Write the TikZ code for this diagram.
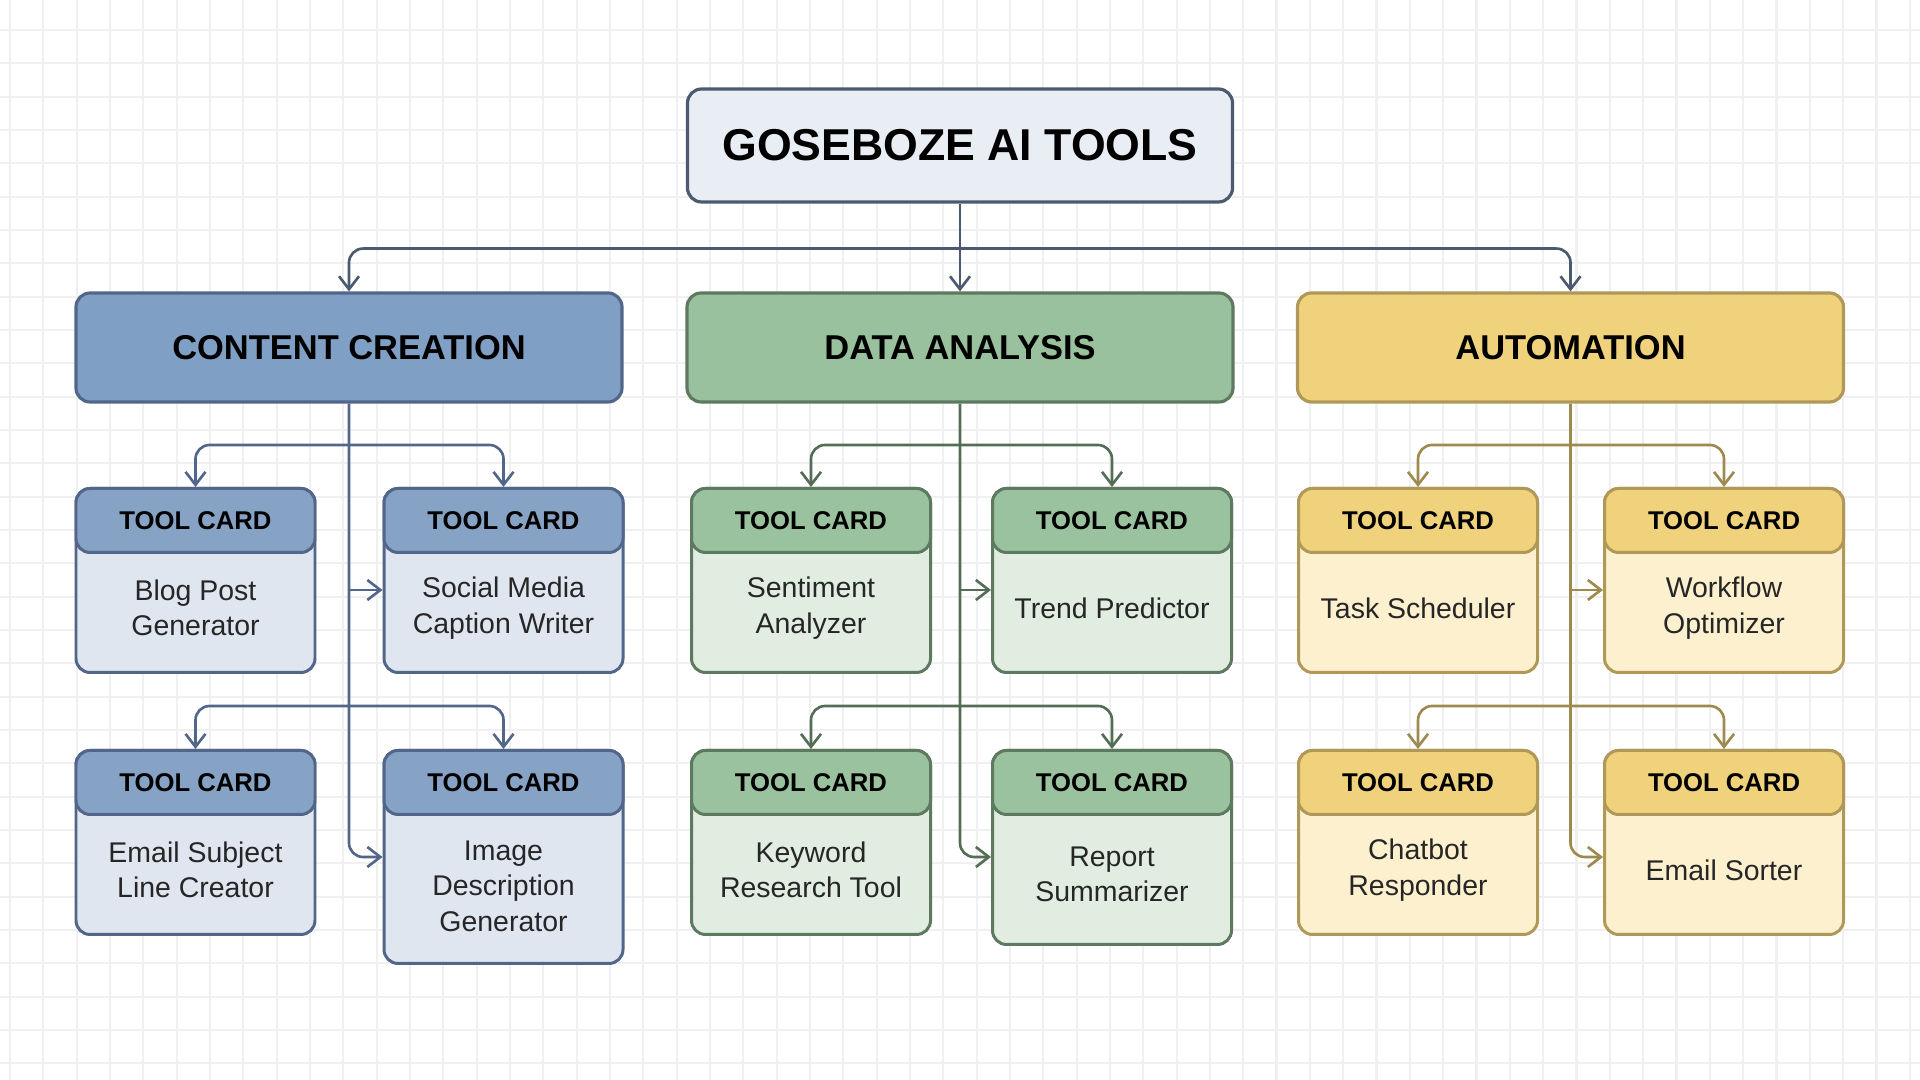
\documentclass[tikz,border=0pt]{standalone}
\usepackage{fontspec}
\setmainfont{Liberation Sans}
\usetikzlibrary{arrows.meta,calc,positioning}
\definecolor{topFill}{HTML}{E9EDF4}
\definecolor{topLine}{HTML}{4B5A70}
\definecolor{ccCat}{HTML}{809FC4}
\definecolor{ccHead}{HTML}{86A2C4}
\definecolor{ccBody}{HTML}{DFE6F0}
\definecolor{ccLine}{HTML}{52668A}
\definecolor{daCat}{HTML}{99C19D}
\definecolor{daHead}{HTML}{9BC29E}
\definecolor{daBody}{HTML}{E1EDE0}
\definecolor{daLine}{HTML}{5D7A60}
\definecolor{auCat}{HTML}{F0D27C}
\definecolor{auHead}{HTML}{F0D27C}
\definecolor{auBody}{HTML}{FCF0CE}
\definecolor{auLine}{HTML}{B09858}
\colorlet{gridLine}{black!6}
\tikzset{
  topbox/.style={
    rectangle, rounded corners=4pt, draw=topLine, fill=topFill, line width=0.9pt,
    minimum width=5.45cm, minimum height=1.13cm,
    font=\bfseries\fontsize{12.7}{15}\selectfont
  },
  catbox/.style={
    rectangle, rounded corners=4pt, line width=0.9pt,
    minimum width=5.46cm, minimum height=1.09cm,
    font=\bfseries\fontsize{9.8}{12}\selectfont
  },
  cardbox/.style={
    rectangle, rounded corners=4pt, line width=0.85pt, anchor=north,
    minimum width=2.39cm, minimum height=1.84cm
  },
  cardhead/.style={
    rectangle, rounded corners=4pt, line width=0.85pt, anchor=north,
    minimum width=2.39cm, minimum height=0.64cm,
    font=\bfseries\fontsize{7.3}{9}\selectfont
  },
  cardtext/.style={align=center, font=\fontsize{8.1}{10.1}\selectfont, text=black!85},
  linkarrow/.style={-{Straight Barb[length=1.3mm,width=2mm]}, line width=0.75pt, rounded corners=4pt},
  toparrow/.style={linkarrow, draw=topLine},
  ccarrow/.style={linkarrow, draw=ccLine},
  daarrow/.style={linkarrow, draw=daLine!90!black},
  auarrow/.style={linkarrow, draw=auLine!90!black}
}

\begin{document}
\begin{tikzpicture}[x=1cm,y=1cm]
  \useasboundingbox (0,0) rectangle (19.2,10.8);
  \fill[white] (0,0) rectangle (19.2,10.8);
  \begin{scope}
    \clip (0,0) rectangle (19.2,10.8);
    \draw[gridLine, line width=0.6pt, step=0.3333cm, xshift=1mm, yshift=1.667mm]
      (-0.5,-0.5) grid (19.5,11);
  \end{scope}

  % main title and the three groups
  \node[topbox] (title) at (9.60,9.345) {GOSEBOZE AI TOOLS};
  \node[catbox, fill=ccCat, draw=ccLine] (content) at (3.49,7.325) {CONTENT CREATION};
  \node[catbox, fill=daCat, draw=daLine] (data) at (9.60,7.325) {DATA ANALYSIS};
  \node[catbox, fill=auCat, draw=auLine] (auto) at (15.705,7.325) {AUTOMATION};

  % content creation cards
  \node[cardbox, fill=ccBody, draw=ccLine] (cc1) at (1.955,5.93) {};
  \node[cardhead, fill=ccHead, draw=ccLine] (cc1h) at (cc1.north) {TOOL CARD};
  \node[cardtext] (cc1t) at ($(cc1h.south)!0.45!(cc1.south)$) {Blog Post\\Generator};
  \node[cardbox, fill=ccBody, draw=ccLine] (cc2) at (5.035,5.93) {};
  \node[cardhead, fill=ccHead, draw=ccLine] (cc2h) at (cc2.north) {TOOL CARD};
  \node[cardtext] (cc2t) at ($(cc2h.south)!0.45!(cc2.south)$) {Social Media\\Caption Writer};
  \node[cardbox, fill=ccBody, draw=ccLine] (cc3) at (1.955,3.31) {};
  \node[cardhead, fill=ccHead, draw=ccLine] (cc3h) at (cc3.north) {TOOL CARD};
  \node[cardtext] (cc3t) at ($(cc3h.south)!0.45!(cc3.south)$) {Email Subject\\Line Creator};
  \node[cardbox, fill=ccBody, draw=ccLine, minimum height=2.13cm] (cc4) at (5.035,3.31) {};
  \node[cardhead, fill=ccHead, draw=ccLine] (cc4h) at (cc4.north) {TOOL CARD};
  \node[cardtext] (cc4t) at ($(cc4h.south)!0.47!(cc4.south)$) {Image\\Description\\Generator};

  % data analysis cards
  \node[cardbox, fill=daBody, draw=daLine] (da1) at (8.11,5.93) {};
  \node[cardhead, fill=daHead, draw=daLine] (da1h) at (da1.north) {TOOL CARD};
  \node[cardtext] (da1t) at ($(da1h.south)!0.45!(da1.south)$) {Sentiment\\Analyzer};
  \node[cardbox, fill=daBody, draw=daLine] (da2) at (11.12,5.93) {};
  \node[cardhead, fill=daHead, draw=daLine] (da2h) at (da2.north) {TOOL CARD};
  \node[cardtext] (da2t) at ($(da2h.south)!0.45!(da2.south)$) {Trend Predictor};
  \node[cardbox, fill=daBody, draw=daLine] (da3) at (8.11,3.31) {};
  \node[cardhead, fill=daHead, draw=daLine] (da3h) at (da3.north) {TOOL CARD};
  \node[cardtext] (da3t) at ($(da3h.south)!0.45!(da3.south)$) {Keyword\\Research Tool};
  \node[cardbox, fill=daBody, draw=daLine, minimum height=1.94cm] (da4) at (11.12,3.31) {};
  \node[cardhead, fill=daHead, draw=daLine] (da4h) at (da4.north) {TOOL CARD};
  \node[cardtext] (da4t) at ($(da4h.south)!0.45!(da4.south)$) {Report\\Summarizer};

  % automation cards
  \node[cardbox, fill=auBody, draw=auLine] (au1) at (14.18,5.93) {};
  \node[cardhead, fill=auHead, draw=auLine] (au1h) at (au1.north) {TOOL CARD};
  \node[cardtext] (au1t) at ($(au1h.south)!0.45!(au1.south)$) {Task Scheduler};
  \node[cardbox, fill=auBody, draw=auLine] (au2) at (17.24,5.93) {};
  \node[cardhead, fill=auHead, draw=auLine] (au2h) at (au2.north) {TOOL CARD};
  \node[cardtext] (au2t) at ($(au2h.south)!0.45!(au2.south)$) {Workflow\\Optimizer};
  \node[cardbox, fill=auBody, draw=auLine] (au3) at (14.18,3.31) {};
  \node[cardhead, fill=auHead, draw=auLine] (au3h) at (au3.north) {TOOL CARD};
  \node[cardtext] (au3t) at ($(au3h.south)!0.45!(au3.south)$) {Chatbot\\Responder};
  \node[cardbox, fill=auBody, draw=auLine] (au4) at (17.24,3.31) {};
  \node[cardhead, fill=auHead, draw=auLine] (au4h) at (au4.north) {TOOL CARD};
  \node[cardtext] (au4t) at ($(au4h.south)!0.45!(au4.south)$) {Email Sorter};

  % title to groups
  \coordinate (bus) at ($(title.south)+(0,-0.45)$);
  \draw[toparrow] (title.south) -- (data.north);
  \draw[toparrow] (bus) -| (content.north);
  \draw[toparrow] (bus) -| (auto.north);

  % split points above each row, side arrow heights
  \coordinate (row1) at ($(cc1.north)+(0,0.42)$);
  \coordinate (row2) at ($(cc3.north)+(0,0.43)$);
  \coordinate (side1) at (0,4.90);
  \coordinate (side2) at (0,2.23);

  % content creation links
  \draw[ccarrow] (content.south) |- (cc4.west |- side2);
  \draw[ccarrow] (content.south |- side1) -- (cc2.west |- side1);
  \draw[ccarrow] (content.south |- row1) -| (cc1.north);
  \draw[ccarrow] (content.south |- row1) -| (cc2.north);
  \draw[ccarrow] (content.south |- row2) -| (cc3.north);
  \draw[ccarrow] (content.south |- row2) -| (cc4.north);

  % data analysis links
  \draw[daarrow] (data.south) |- (da4.west |- side2);
  \draw[daarrow] (data.south |- side1) -- (da2.west |- side1);
  \draw[daarrow] (data.south |- row1) -| (da1.north);
  \draw[daarrow] (data.south |- row1) -| (da2.north);
  \draw[daarrow] (data.south |- row2) -| (da3.north);
  \draw[daarrow] (data.south |- row2) -| (da4.north);

  % automation links
  \draw[auarrow] (auto.south) |- (au4.west |- side2);
  \draw[auarrow] (auto.south |- side1) -- (au2.west |- side1);
  \draw[auarrow] (auto.south |- row1) -| (au1.north);
  \draw[auarrow] (auto.south |- row1) -| (au2.north);
  \draw[auarrow] (auto.south |- row2) -| (au3.north);
  \draw[auarrow] (auto.south |- row2) -| (au4.north);
\end{tikzpicture}
\end{document}
